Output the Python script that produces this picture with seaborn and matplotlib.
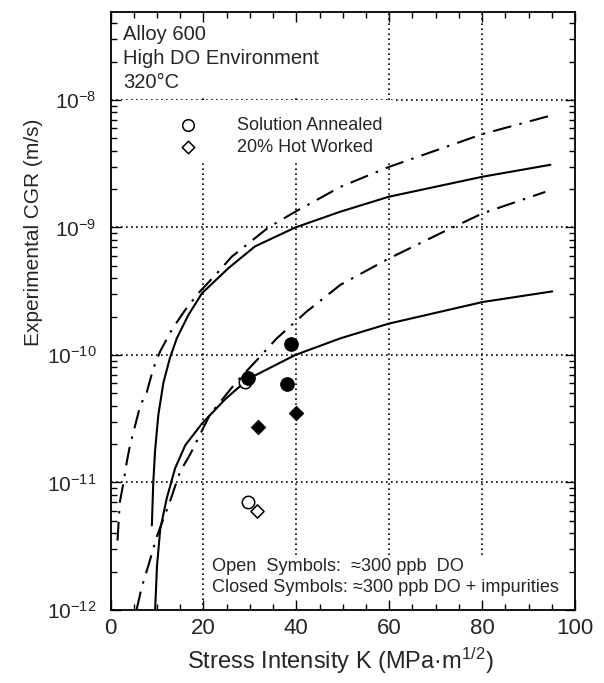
import matplotlib
matplotlib.use("Agg")
import matplotlib.pyplot as plt
from matplotlib.patches import Rectangle
from matplotlib.ticker import FixedLocator, LogLocator, MultipleLocator, NullFormatter
import seaborn as sns

# curves (K in MPa*m^1/2, CGR in m/s)
upper_solid_k = [8.9, 9.2, 9.6, 10.3, 11.4, 12.8, 14.3, 16.8, 19.7, 25.4, 31.1, 39.8, 49.5, 59.9, 80.1, 94.7]
upper_solid_cgr = [4.6e-12, 1.0e-11, 1.8e-11, 3.4e-11, 6.1e-11, 9.5e-11, 1.36e-10, 2.07e-10, 3.05e-10,
                   4.8e-10, 7.1e-10, 1.0e-9, 1.33e-9, 1.74e-9, 2.5e-9, 3.1e-9]

lower_solid_k = [9.6, 10.0, 10.7, 12.1, 13.9, 16.1, 19.7, 24.7, 29.7, 39.8, 49.5, 59.9, 80.1, 95.1]
lower_solid_cgr = [1e-12, 2.2e-12, 4.3e-12, 7.5e-12, 1.29e-11, 1.96e-11, 2.9e-11, 4.5e-11, 6.5e-11,
                   1.0e-10, 1.35e-10, 1.76e-10, 2.6e-10, 3.15e-10]

upper_dd_k = [1.5, 2.0, 2.8, 3.5, 4.2, 5.3, 6.4, 7.8, 9.2, 10.7, 13.2, 16.1, 18.9, 22.5, 26.1, 29.7,
              34.0, 39.8, 49.5, 59.9, 80.1, 95.1]
upper_dd_cgr = [3.5e-12, 7e-12, 1e-11, 1.45e-11, 1.96e-11, 2.8e-11, 4e-11, 5.1e-11, 7.8e-11, 1.07e-10,
                1.58e-10, 2.26e-10, 3.05e-10, 4.2e-10, 5.9e-10, 7.5e-10, 1e-9, 1.33e-9, 2.08e-9, 2.98e-9,
                5.4e-9, 7.6e-9]

lower_dd_k = [5.6, 6.7, 8.1, 10.0, 12.8, 15.0, 17.1, 21.4, 27.2, 31.5, 35.8, 42.3, 49.5, 59.9, 71.7, 80.1, 93.6]
lower_dd_cgr = [1e-12, 1.5e-12, 2.2e-12, 3.8e-12, 7.1e-12, 1.22e-11, 1.65e-11, 3.4e-11, 6.2e-11, 9.1e-11,
                1.35e-10, 2.2e-10, 3.55e-10, 5.7e-10, 9.25e-10, 1.29e-9, 1.9e-9]

# measured data points
open_circle_k = [29.0, 29.7]
open_circle_cgr = [6.1e-11, 7.0e-12]
open_diamond_k = [31.5]
open_diamond_cgr = [6.0e-12]
closed_circle_k = [29.6, 38.9, 38.1]
closed_circle_cgr = [6.6e-11, 1.22e-10, 5.9e-11]
closed_diamond_k = [31.7, 39.9]
closed_diamond_cgr = [2.7e-11, 3.5e-11]

x_ticks = [0, 20, 40, 60, 80, 100]
y_ticks = [1e-12, 1e-11, 1e-10, 1e-9, 1e-8]
x_grid = [20, 40, 60, 80]
y_grid = [1e-11, 1e-10, 1e-9, 1e-8]

sns.set_style("ticks")
plt.rcParams["font.family"] = ["Liberation Sans", "DejaVu Sans"]
plt.rcParams["mathtext.fontset"] = "custom"
plt.rcParams["mathtext.rm"] = "Liberation Sans"
plt.rcParams["mathtext.it"] = "Liberation Sans:italic"
plt.rcParams["axes.axisbelow"] = False
plt.rcParams["axes.unicode_minus"] = False

fig = plt.figure(figsize=(6.04, 6.83), dpi=100)
ax = fig.add_axes([0.183, 0.107, 0.769, 0.875])
ax.set_yscale("log")
ax.set_xlim(0, 100)
ax.set_ylim(1e-12, 4.87e-8)


def px_box(x0, y0, x1, y1):
    # rectangle given in figure pixels -> axes fraction
    fx0 = (x0 - 110.5) / 464.5
    fx1 = (x1 - 110.5) / 464.5
    fy0 = (610 - y1) / 598
    fy1 = (610 - y0) / 598
    return Rectangle((fx0, fy0), fx1 - fx0, fy1 - fy0, transform=ax.transAxes,
                     facecolor="white", edgecolor="none", zorder=1)


# dotted grid, partly hidden behind the text blocks
for xv in x_grid:
    ax.axvline(xv, color="black", lw=1.2, ls=(0, (1, 2)), zorder=0.5)
for yv in y_grid:
    ax.axhline(yv, color="black", lw=1.2, ls=(0, (1, 2)), zorder=0.5)
ax.add_patch(px_box(112, 13, 380, 95))
ax.add_patch(px_box(112, 100, 396, 163))
ax.add_patch(px_box(207, 555, 574, 609))

dash_dot = (0, (9, 4, 1.2, 4))
sns.lineplot(x=upper_solid_k, y=upper_solid_cgr, color="black", lw=1.5, sort=False, estimator=None, ax=ax, zorder=2)
sns.lineplot(x=lower_solid_k, y=lower_solid_cgr, color="black", lw=1.5, sort=False, estimator=None, ax=ax, zorder=2)
sns.lineplot(x=upper_dd_k, y=upper_dd_cgr, color="black", lw=1.5, linestyle=dash_dot, sort=False,
             estimator=None, ax=ax, zorder=2)
sns.lineplot(x=lower_dd_k, y=lower_dd_cgr, color="black", lw=1.5, linestyle=dash_dot, sort=False,
             estimator=None, ax=ax, zorder=2)

sns.scatterplot(x=open_circle_k, y=open_circle_cgr, marker="o", s=80, color="white", edgecolor="black",
                linewidth=1.1, ax=ax, zorder=3)
sns.scatterplot(x=open_diamond_k, y=open_diamond_cgr, marker="D", s=45, color="white", edgecolor="black",
                linewidth=1.1, ax=ax, zorder=3)
sns.scatterplot(x=closed_circle_k, y=closed_circle_cgr, marker="o", s=95, color="black", edgecolor="black",
                ax=ax, zorder=4)
sns.scatterplot(x=closed_diamond_k, y=closed_diamond_cgr, marker="D", s=55, color="black", edgecolor="black",
                ax=ax, zorder=4)

# ticks
ax.xaxis.set_major_locator(FixedLocator(x_ticks))
ax.xaxis.set_minor_locator(MultipleLocator(5))
ax.yaxis.set_major_locator(FixedLocator(y_ticks))
ax.yaxis.set_minor_locator(LogLocator(base=10, subs=range(2, 10), numticks=20))
ax.yaxis.set_minor_formatter(NullFormatter())
ax.tick_params(which="both", direction="in", top=True, right=True, color="black", width=1.0)
ax.tick_params(which="major", length=7)
ax.tick_params(which="minor", length=4)
ax.tick_params(axis="x", which="major", labelsize=16, pad=6)
ax.tick_params(axis="y", which="major", labelsize=15, pad=10)
for sp in ax.spines.values():
    sp.set_linewidth(1.3)
    sp.set_color("black")
    sp.set_zorder(5)

ax.set_xlabel("Stress Intensity K (MPa·m$^{1/2}$)", fontsize=17)
ax.set_ylabel("Experimental CGR (m/s)", fontsize=15)
ax.xaxis.set_label_coords(0.495, -0.06)
ax.yaxis.set_label_coords(-0.146, 0.632)

# annotations
for i, line in enumerate(["Alloy 600", "High DO Environment", "320°C"]):
    ax.text(0.027, 0.953 - i * 0.0395, line, transform=ax.transAxes, fontsize=14.5, va="baseline", zorder=6)

ax.scatter([0.167], [0.811], marker="o", s=70, facecolor="white", edgecolor="black", linewidth=1.1,
           transform=ax.transAxes, zorder=6, clip_on=False)
ax.scatter([0.167], [0.774], marker="D", s=40, facecolor="white", edgecolor="black", linewidth=1.1,
           transform=ax.transAxes, zorder=6, clip_on=False)
ax.text(0.272, 0.811, "Solution Annealed", transform=ax.transAxes, fontsize=13, va="center", zorder=6)
ax.text(0.272, 0.774, "20% Hot Worked", transform=ax.transAxes, fontsize=13, va="center", zorder=6)

ax.text(0.219, 0.072, "Open  Symbols:  ≈300 ppb  DO", transform=ax.transAxes, fontsize=13.1,
        va="center", zorder=6)
ax.text(0.219, 0.037, "Closed Symbols: ≈300 ppb DO + impurities", transform=ax.transAxes, fontsize=13.1,
        va="center", zorder=6)

fig.savefig("out.png", dpi=100)
